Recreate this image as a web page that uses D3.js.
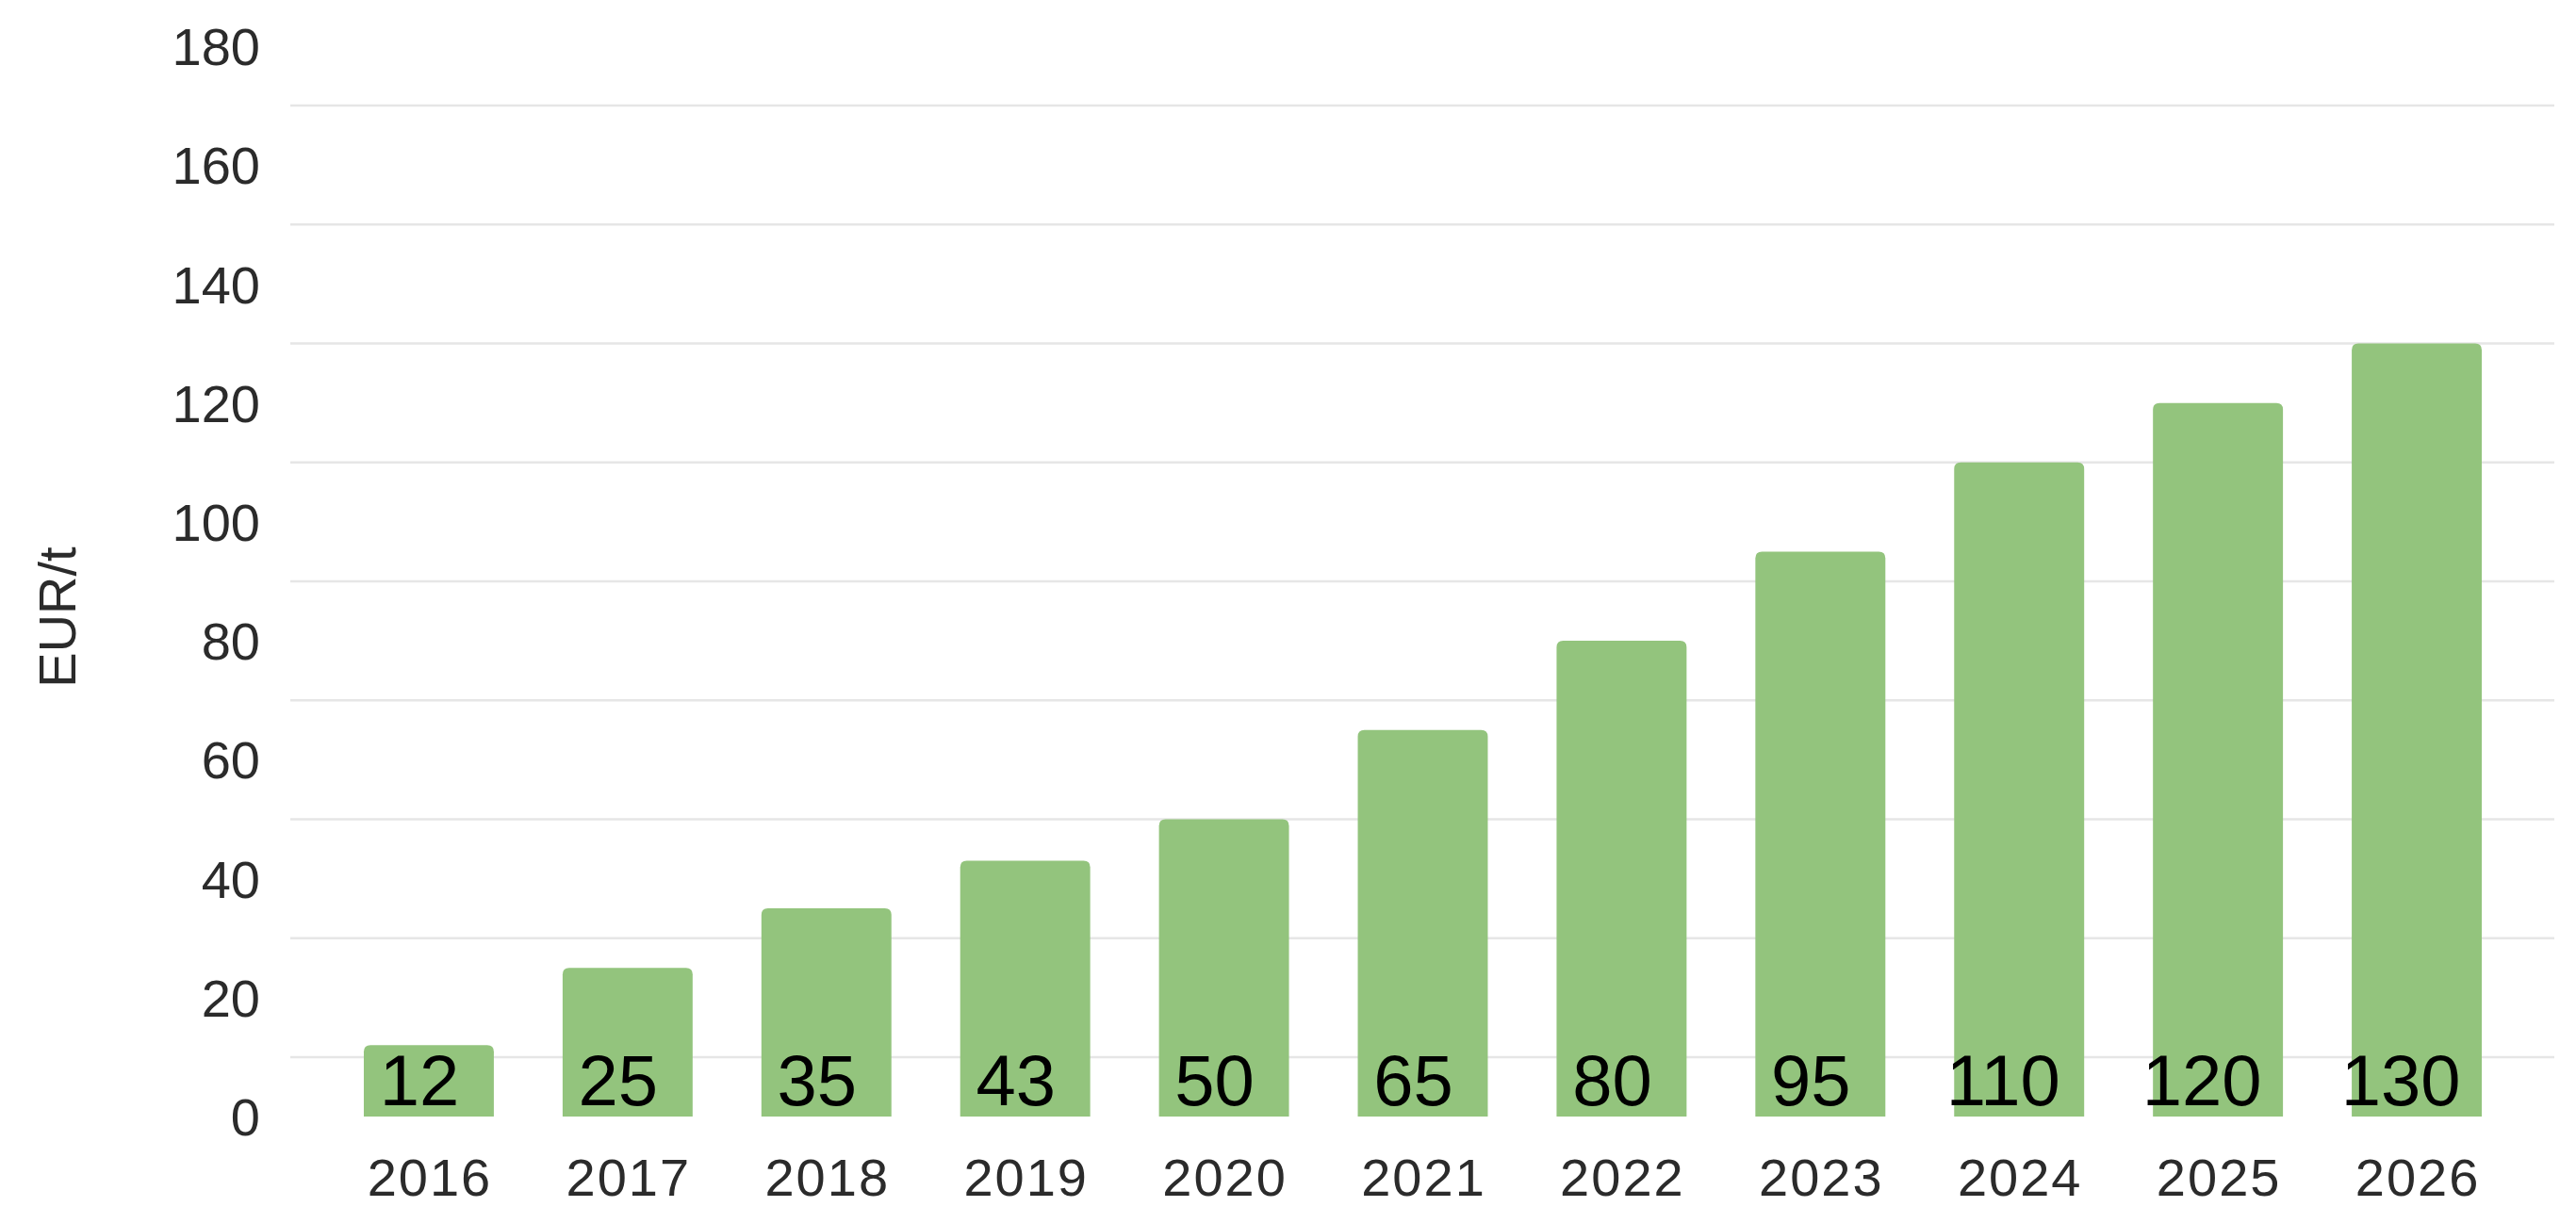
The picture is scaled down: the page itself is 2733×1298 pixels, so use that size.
<!DOCTYPE html>
<html>
<head>
<meta charset="utf-8">
<script src="https://cdn.jsdelivr.net/npm/d3@7"></script>
<style>
  html, body { margin: 0; padding: 0; background: #fff; }
  svg { display: block; }
</style>
</head>
<body>
<script>
const years = ["2016","2017","2018","2019","2020","2021","2022","2023","2024","2025","2026"];
const values = [12, 25, 35, 43, 50, 65, 80, 95, 110, 120, 130];
const yTickLabels = [0, 20, 40, 60, 80, 100, 120, 140, 160, 180];
const gridValues = [10, 30, 50, 70, 90, 110, 130, 150, 170];
const yAxisTitle = "EUR/t";

const W = 2733, H = 1298;
const svg = d3.select("body").append("svg").attr("width", W).attr("height", H);

const y = d3.scaleLinear().domain([0, 180]).range([1185, 49]);
const x = d3.scaleBand().domain(years).range([349.5, 2669.5])
  .paddingInner(0.346).paddingOuter(0.173);

const font = "'Liberation Sans', Arial, sans-serif";

// gridlines
svg.append("g").selectAll("line").data(gridValues).join("line")
  .attr("x1", 308).attr("x2", 2710)
  .attr("y1", d => y(d)).attr("y2", d => y(d))
  .attr("stroke", "#e6e6e6").attr("stroke-width", 2.5);

// y tick labels
svg.append("g").selectAll("text").data(yTickLabels).join("text")
  .attr("x", 276).attr("y", d => y(d))
  .attr("dy", "0.36em")
  .attr("text-anchor", "end")
  .attr("font-family", font).attr("font-size", 56)
  .attr("fill", "#2b2b2b")
  .text(d => d);

// y axis title
svg.append("text")
  .attr("transform", "translate(80,655) rotate(-90)")
  .attr("text-anchor", "middle")
  .attr("font-family", font).attr("font-size", 56)
  .attr("fill", "#2b2b2b")
  .text(yAxisTitle);

// bars with rounded top corners
const r = 7;
function barPath(d, i) {
  const x0 = x(years[i]), w = x.bandwidth();
  const y0 = y(d), yb = y(0);
  return `M${x0},${yb} L${x0},${y0 + r} Q${x0},${y0} ${x0 + r},${y0} L${x0 + w - r},${y0} Q${x0 + w},${y0} ${x0 + w},${y0 + r} L${x0 + w},${yb} Z`;
}
svg.append("g").selectAll("path").data(values).join("path")
  .attr("d", (d, i) => barPath(d, i))
  .attr("fill", "#93c47d");

// value labels
svg.append("g").selectAll("text").data(values).join("text")
  .attr("x", (d, i) => x(years[i]) + x.bandwidth() / 2 - (String(d).length > 2 ? 17 : 10))
  .attr("y", y(0) - 12)
  .attr("text-anchor", "middle")
  .attr("font-family", font).attr("font-size", 76)
  .attr("fill", "#000")
  .text(d => d);

// x labels
svg.append("g").selectAll("text").data(years).join("text")
  .attr("x", d => x(d) + x.bandwidth() / 2 + 1)
  .attr("y", 1269)
  .attr("text-anchor", "middle")
  .attr("font-family", font).attr("font-size", 56)
  .attr("letter-spacing", 2)
  .attr("fill", "#2b2b2b")
  .text(d => d);
</script>
</body>
</html>
